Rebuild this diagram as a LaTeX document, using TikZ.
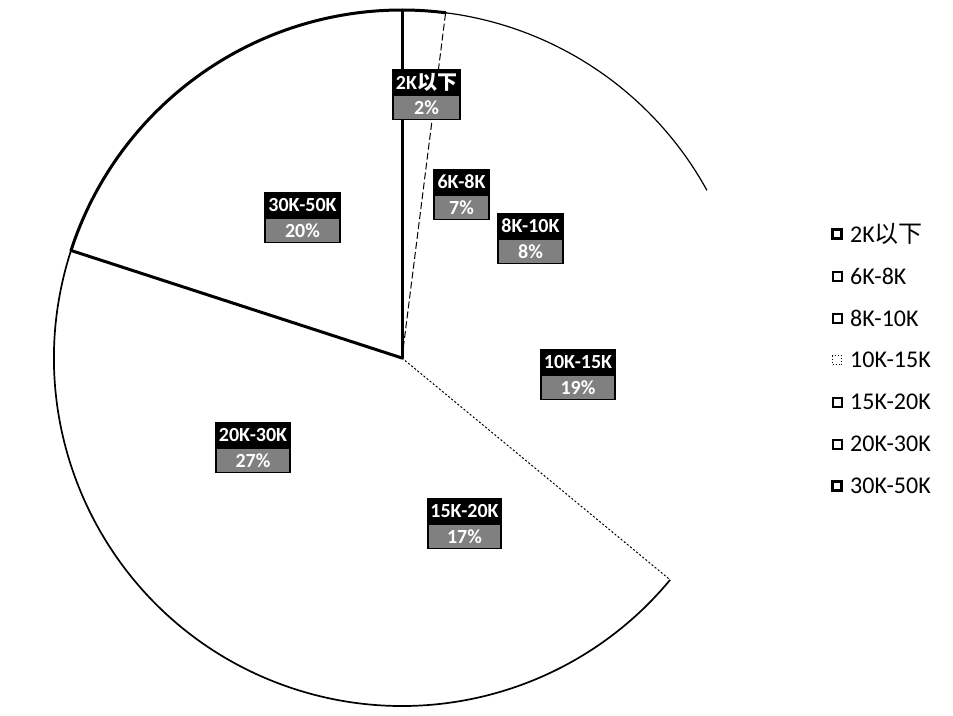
\documentclass[tikz,border=0pt]{standalone}
\usepackage{fontspec}
\setmainfont{Carlito}
\newfontfamily\cjk{Noto Sans CJK SC}
\usetikzlibrary{calc}
\tikzset{
  thickline/.style={line width=3pt, line cap=round},
  thinline/.style={line width=1.7pt},
  lbtop/.style={fill=black, text=white, draw=black, line width=1.2pt, font=\fontsize{20}{20}\selectfont\bfseries, minimum height=24pt, inner xsep=1pt, inner ysep=1pt},
  lbbot/.style={fill=black!50, text=white, draw=black, line width=1.2pt, font=\fontsize{20}{20}\selectfont\bfseries, minimum height=24pt, inner xsep=1pt, inner ysep=1pt},
  legtext/.style={anchor=west, font=\fontsize{24}{24}\selectfont, inner sep=0pt},
  legbox/.style={draw=black, line width=2pt, minimum size=9pt, inner sep=0pt},
}
\newcommand\pielabel[6]{%
  \node[lbtop, minimum width=#4pt] (#1t) at (#2,#3) {#5};
  \node[lbbot, minimum width=#4pt, anchor=north] (#1b) at (#1t.south) {#6};
}
\begin{document}
\begin{tikzpicture}[x=1pt,y=-1pt]
\useasboundingbox (0,0) rectangle (953,715);
\def\R{348}
\coordinate (O) at (402,358);
% rim points
\coordinate (p90) at ($(O)+(-90:\R)$);
\coordinate (p828) at ($(O)+(-82.8:\R)$);
\coordinate (p288) at ($(O)+(-28.8:\R)$);
\coordinate (p162) at ($(O)+(-162:\R)$);
\coordinate (pm396) at ($(O)+(39.6:\R)$);
% arcs
\draw[thickline] (p162) arc[start angle=-162, end angle=-90, radius=\R] arc[start angle=-90, end angle=-82.8, radius=\R];
\draw[line width=1.2pt] (p828) arc[start angle=-82.8, end angle=-28.8, radius=\R];
\draw[thinline] (p162) arc[start angle=-162, end angle=-320.4, radius=\R];
% radii
\draw[thickline] (O) -- (p90);
\draw[thickline] (O) -- (p162);
\draw[line width=1pt, dash pattern=on 7pt off 3pt] (O) -- (p828);
\draw[line width=1pt, dash pattern=on 2pt off 2pt] (O) -- (pm396);
% labels
\pielabel{a}{426.5}{82}{67}{2K{\cjk 以下}}{2\%}
\pielabel{b}{461.5}{182}{55}{6K-8K}{7\%}
\pielabel{c}{530.5}{226}{65}{8K-10K}{8\%}
\pielabel{d}{578}{362}{74}{10K-15K}{19\%}
\pielabel{e}{464.5}{511}{73}{15K-20K}{17\%}
\pielabel{f}{253}{435}{74}{20K-30K}{27\%}
\pielabel{g}{302.5}{205}{75}{30K-50K}{20\%}
% legend
\node[legbox, line width=2.5pt] (m1) at (837,234) {};
\node[legtext] (t1) at (850,234) {2K{\cjk 以下}};
\node[legbox] (m2) at (837,276) {};
\node[legtext] (t2) at (850,276) {6K-8K};
\node[legbox] (m3) at (837,318) {};
\node[legtext] (t3) at (850,318) {8K-10K};
\node[legbox, line width=1pt, dotted] (m4) at (837,360) {};
\node[legtext] (t4) at (850,360) {10K-15K};
\node[legbox] (m5) at (837,402) {};
\node[legtext] (t5) at (850,402) {15K-20K};
\node[legbox] (m6) at (837,444) {};
\node[legtext] (t6) at (850,444) {20K-30K};
\node[legbox, line width=3pt] (m7) at (837,486) {};
\node[legtext] (t7) at (850,486) {30K-50K};
\end{tikzpicture}
\end{document}
